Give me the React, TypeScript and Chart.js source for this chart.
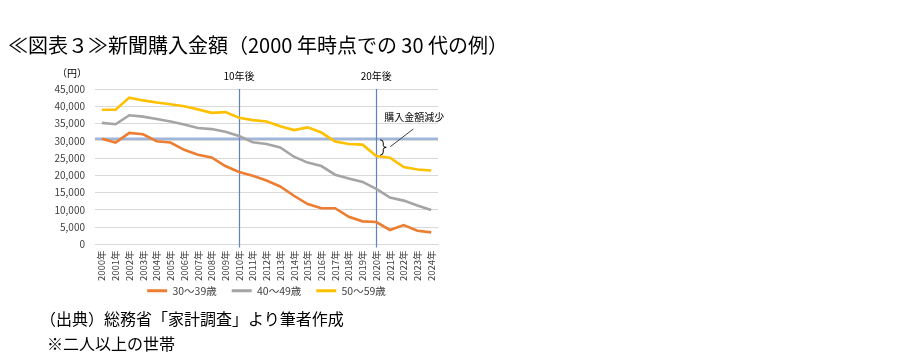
import React, { useEffect, useRef } from "react";
import { Chart, registerables } from "chart.js";

Chart.register(...registerables);

const years = [
  "2000年", "2001年", "2002年", "2003年", "2004年", "2005年", "2006年", "2007年", "2008年", "2009年",
  "2010年", "2011年", "2012年", "2013年", "2014年", "2015年", "2016年", "2017年", "2018年", "2019年",
  "2020年", "2021年", "2022年", "2023年", "2024年",
];
const age30s = [30600, 29500, 32300, 31900, 29900, 29500, 27400, 26000, 25200, 22700, 21000, 19900, 18500, 16800, 14100, 11700, 10500, 10500, 8000, 6700, 6500, 4200, 5600, 4000, 3500];
const age40s = [35200, 34800, 37400, 37000, 36300, 35600, 34700, 33700, 33400, 32600, 31400, 29600, 29100, 28100, 25400, 23700, 22700, 20200, 19100, 18100, 16100, 13600, 12700, 11300, 10000];
const age50s = [39000, 39000, 42500, 41700, 41100, 40600, 40000, 39100, 38100, 38300, 36700, 36000, 35600, 34200, 33100, 33900, 32400, 29800, 29100, 28900, 25600, 25100, 22400, 21700, 21400];
const seriesNames = ["30～39歳", "40～49歳", "50～59歳"];

const baseValue = 30600; // 2000年時点の30代
const markerIndexes = [10, 20];
const markerLabels = ["10年後", "20年後"];
const braceIndex = 20;
const noteText = "購入金額減少";
const noteValue = 36700;
const pointerFromValue = 28300;
const pointerToValue = 33400;
const unitLabel = "（円）";

const FONT = "'Noto Sans CJK JP', 'Noto Sans', sans-serif";

const annotationPlugin = {
  id: "annot",
  afterLayout(chart: any) {
    const lg = chart.legend;
    if (lg) {
      lg.top -= 14;
      lg.bottom -= 14;
    }
  },
  beforeDatasetsDraw(chart: any) {
    const { ctx, chartArea, scales } = chart;
    const x = scales.x;
    const y = scales.y;
    ctx.save();
    ctx.strokeStyle = "#9fb5d9";
    ctx.lineWidth = 2.5;
    ctx.beginPath();
    const yb = y.getPixelForValue(baseValue);
    ctx.moveTo(chartArea.left, yb);
    ctx.lineTo(chartArea.right, yb);
    ctx.stroke();
    ctx.strokeStyle = "#5f83bf";
    ctx.lineWidth = 1.2;
    markerIndexes.forEach((i) => {
      const px = Math.round(x.getPixelForValue(i)) + 0.5;
      ctx.beginPath();
      ctx.moveTo(px, chartArea.top);
      ctx.lineTo(px, chartArea.bottom + 3);
      ctx.stroke();
    });
    ctx.restore();
  },
  afterDatasetsDraw(chart: any) {
    const { ctx, chartArea, scales } = chart;
    const x = scales.x;
    const y = scales.y;
    ctx.save();
    ctx.fillStyle = "#000";
    ctx.font = `10px ${FONT}`;
    ctx.textAlign = "center";
    ctx.textBaseline = "middle";
    markerIndexes.forEach((i, k) => {
      ctx.fillText(markerLabels[k], x.getPixelForValue(i), chartArea.top - 13);
    });
    ctx.textAlign = "right";
    ctx.fillText(unitLabel, chartArea.left - 8, chartArea.top - 16);

    const bx = x.getPixelForValue(braceIndex) + 4;
    const yt = y.getPixelForValue(baseValue) + 1;
    const ybot = y.getPixelForValue(age50s[braceIndex]) - 1;
    const ym = (yt + ybot) / 2;
    ctx.strokeStyle = "#000";
    ctx.lineWidth = 1;
    ctx.beginPath();
    ctx.moveTo(bx, yt);
    ctx.quadraticCurveTo(bx + 3, yt, bx + 3, yt + 3);
    ctx.lineTo(bx + 3, ym - 2);
    ctx.quadraticCurveTo(bx + 3, ym, bx + 6, ym);
    ctx.quadraticCurveTo(bx + 3, ym, bx + 3, ym + 2);
    ctx.lineTo(bx + 3, ybot - 3);
    ctx.quadraticCurveTo(bx + 3, ybot, bx, ybot);
    ctx.stroke();

    const xs = x.getPixelForValue(braceIndex);
    ctx.strokeStyle = "#404040";
    ctx.beginPath();
    ctx.moveTo(xs + 14, y.getPixelForValue(pointerFromValue));
    ctx.lineTo(xs + 37, y.getPixelForValue(pointerToValue));
    ctx.stroke();

    ctx.fillStyle = "#000";
    ctx.font = `10px ${FONT}`;
    ctx.textAlign = "center";
    ctx.fillText(noteText, xs + 38, y.getPixelForValue(noteValue));
    ctx.restore();
  },
};

export default function App() {
  const ref = useRef<HTMLCanvasElement | null>(null);

  useEffect(() => {
    if (!ref.current) return;
    const colors = ["#ED7D31", "#A5A5A5", "#FFC000"];
    const series = [age30s, age40s, age50s];
    const chart = new Chart(ref.current, {
      type: "line",
      data: {
        labels: years,
        datasets: series.map((d, i) => ({
          label: seriesNames[i],
          data: d,
          borderColor: colors[i],
          backgroundColor: colors[i],
          borderWidth: 2.6,
          pointRadius: 0,
          tension: 0,
        })),
      },
      options: {
        animation: false,
        responsive: false,
        maintainAspectRatio: false,
        layout: { padding: { left: 40, right: 475, top: 89, bottom: 40 } },
        plugins: {
          title: { display: false },
          tooltip: { enabled: false },
          legend: {
            position: "bottom",
            fullSize: false,
            labels: {
              font: { family: FONT, size: 10.5 },
              color: "#404040",
              boxWidth: 20,
              boxHeight: 3,
              padding: 15,
              generateLabels(chart: any) {
                return chart.data.datasets.map((ds: any, i: number) => ({
                  text: ds.label,
                  fillStyle: ds.borderColor,
                  strokeStyle: ds.borderColor,
                  lineWidth: 0,
                  hidden: false,
                  datasetIndex: i,
                  fontColor: "#404040",
                }));
              },
            },
          },
        },
        scales: {
          x: {
            offset: true,
            afterFit(s: any) { s.height = 40; },
            grid: { display: false, drawTicks: false },
            border: { display: true, color: "#d9d9d9" },
            ticks: {
              autoSkip: false,
              minRotation: 90,
              maxRotation: 90,
              padding: 6,
              font: { family: FONT, size: 9.5 },
              color: "#404040",
            },
          },
          y: {
            min: 0,
            max: 45000,
            afterFit(s: any) { s.width = 55; },
            grid: { color: "#d9d9d9", lineWidth: 1, drawTicks: false },
            border: { display: false },
            ticks: {
              stepSize: 5000,
              padding: 10,
              font: { family: FONT, size: 10 },
              color: "#404040",
              callback: (v: any) => Number(v).toLocaleString("en-US"),
            },
          },
        },
      },
      plugins: [annotationPlugin],
    });
    return () => chart.destroy();
  }, []);

  return (
    <div style={{ position: "absolute", left: 0, top: 0, width: 913, height: 360, background: "#fff", overflow: "hidden" }}>
      <canvas ref={ref} width={913} height={360} style={{ position: "absolute", left: 0, top: 0, width: 913, height: 360 }} />
      <div style={{ position: "absolute", left: 8, top: 32, fontFamily: FONT, fontSize: 20, lineHeight: "26px", color: "#000", whiteSpace: "nowrap" }}>
        ≪図表３≫新聞購入金額（2000 年時点での 30 代の例）
      </div>
      <div style={{ position: "absolute", left: 40, top: 307, fontFamily: FONT, fontSize: 16, lineHeight: "22px", color: "#000", whiteSpace: "nowrap" }}>
        （出典）総務省「家計調査」より筆者作成
      </div>
      <div style={{ position: "absolute", left: 47, top: 332, fontFamily: FONT, fontSize: 16, lineHeight: "22px", color: "#000", whiteSpace: "nowrap" }}>
        ※二人以上の世帯
      </div>
    </div>
  );
}
